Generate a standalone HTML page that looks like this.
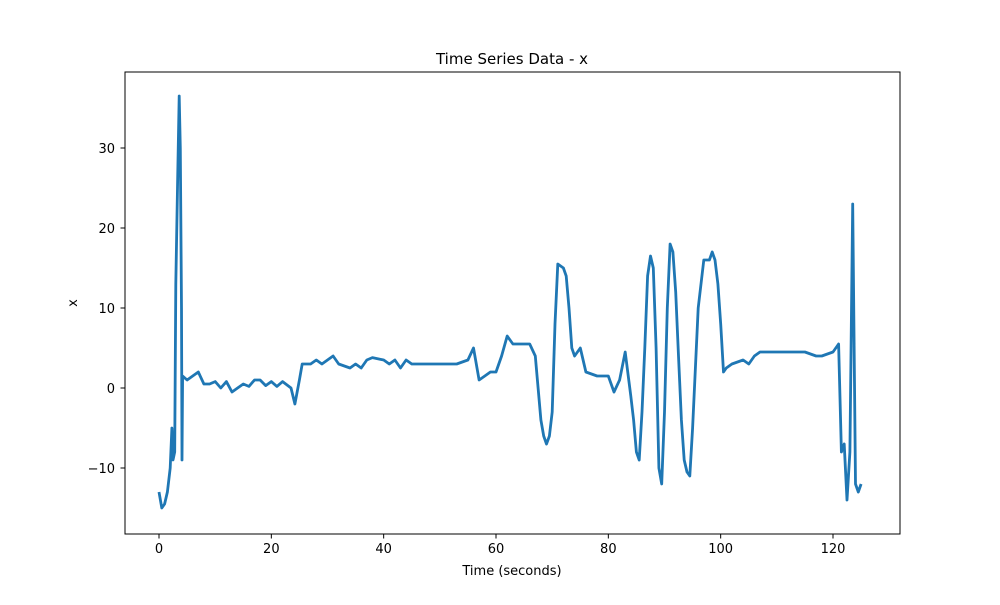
<!DOCTYPE html>
<html><head><meta charset="utf-8"><style>
body{margin:0;background:#fff;font-family:"Liberation Sans","DejaVu Sans",sans-serif}
text{font-family:"DejaVu Sans","Liberation Sans",sans-serif;font-size:13px;fill:#000}
</style></head><body>
<svg id="chart" width="1000" height="600" xmlns="http://www.w3.org/2000/svg">
<rect width="1000" height="600" fill="#fff"/>
<text x="512" y="64" text-anchor="middle" style="font-size:15px">Time Series Data - x</text>
<g id="plot"></g>
<rect x="125" y="72" width="775" height="462" fill="none" stroke="#000" stroke-width="1"/>
<text x="512" y="575" text-anchor="middle">Time (seconds)</text>
<text x="77" y="303" text-anchor="middle" transform="rotate(-90 77 303)">x</text>
</svg>
<script>
const times=[
0,0.5,1,1.5,2,2.3,2.5,2.8,3,3.3,3.6,3.8,4.0,4.1,4.2,
5,6,7,8,9,10,11,12,13,14,
15,16,17,18,19,20,21,22,23.5,24.2,
25,25.5,27,28,29,30,31,32,34,35,
36,37,38,40,41,42,43,44,45,47,
50,53,55,56,57,58,59,60,61,62,
63,64,66,67,67.5,68,68.5,69,69.5,70,
70.5,71,72,72.5,73,73.5,74,75,76,78,
80,81,82,83,84,84.5,85,85.5,86,86.5,
87,87.5,88,88.5,89,89.5,90,90.5,
91,91.5,92,92.5,93,93.5,94,94.5,95,96,
97,98,98.5,99,99.5,100,100.5,101,102,104,
105,106,107,110,115,117,118,120,121,121.5,
122,122.5,123,123.5,124,124.5,125];
const values=[
-13,-15,-14.5,-13,-10,-5,-9,-8,13,25,36.5,30,10,-9,1.5,
1,1.5,2,0.5,0.5,0.8,0,0.8,-0.5,0,
0.5,0.2,1,1,0.3,0.8,0.2,0.8,0,-2,
1,3,3,3.5,3,3.5,4,3,2.5,3,
2.5,3.5,3.8,3.5,3,3.5,2.5,3.5,3,3,
3,3,3.5,5,1,1.5,2,2,4,6.5,
5.5,5.5,5.5,4,0,-4,-6,-7,-6,-3,
8,15.5,15,14,10,5,4,5,2,1.5,
1.5,-0.5,1,4.5,-1,-4,-8,-9,-3,5,
14,16.5,15,5,-10,-12,-3,10,
18,17,12,4,-4,-9,-10.5,-11,-5,10,
16,16,17,16,13,8,2,2.5,3,3.5,
3,4,4.5,4.5,4.5,4,4,4.5,5.5,-8,
-7,-14,-8,23,-12,-13,-12];
const xTicks=[0,20,40,60,80,100,120];
const yTicks=[-10,0,10,20,30];
const xs=t=>159+t*(833-159)/120;
const ys=v=>388-v*8;
const NS="http://www.w3.org/2000/svg";
const g=document.getElementById('plot');
function mk(tag,attrs){const e=document.createElementNS(NS,tag);for(const k in attrs)e.setAttribute(k,attrs[k]);g.appendChild(e);return e;}
xTicks.forEach(t=>{
  const l=mk('line',{x1:xs(t),x2:xs(t),y1:534,y2:538.5,stroke:'#000'});
  
  
  const tx=mk('text',{x:xs(t),y:553,'text-anchor':'middle'});tx.textContent=t;
  
  
});
yTicks.forEach(v=>{
  const l=mk('line',{x1:120.5,x2:125,y1:ys(v),y2:ys(v),stroke:'#000'});
  
  
  const tx=mk('text',{x:115,y:ys(v)+5,'text-anchor':'end'});tx.textContent=v<0?'\u2212'+(-v):v;
  
  
});
const n=Math.min(times.length,values.length);
let d='';
for(let i=0;i<n;i++){d+=(i?'L':'M')+xs(times[i]).toFixed(1)+' '+ys(values[i]).toFixed(1)+' ';}
const p=mk('path',{d:d,fill:'none',stroke:'#1f77b4','stroke-width':2.8,'stroke-linejoin':'round'});


</script>
</body></html>
